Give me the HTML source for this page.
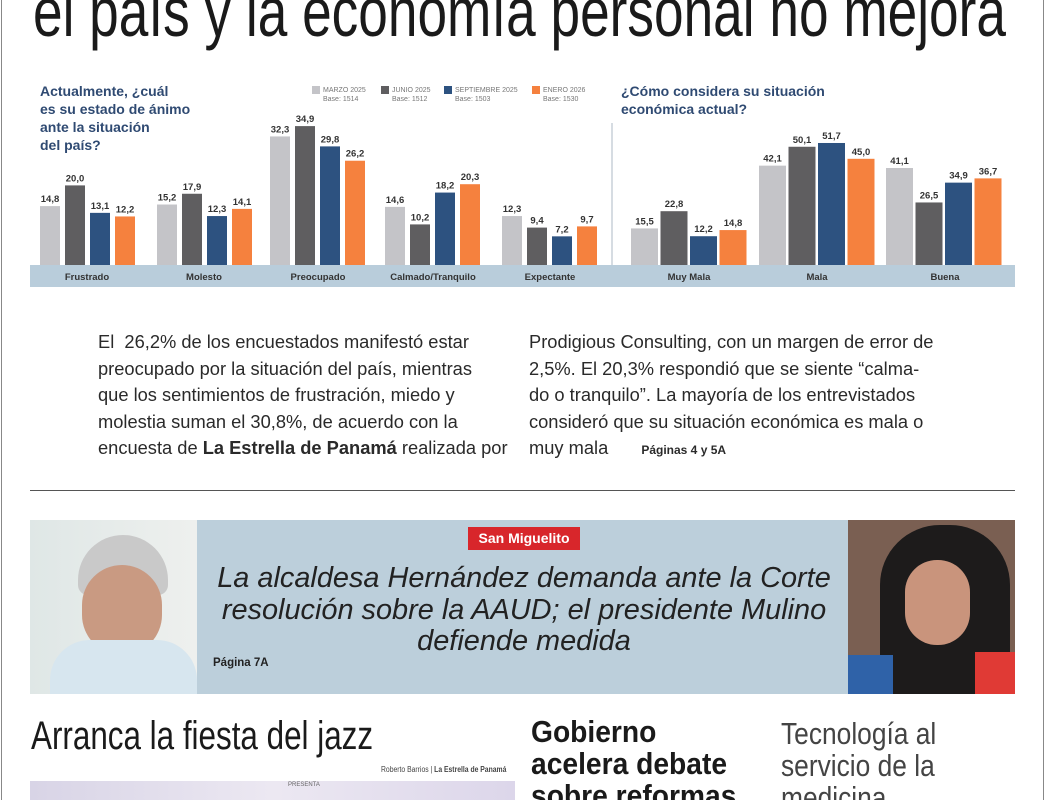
<!DOCTYPE html>
<html><head><meta charset="utf-8"><style>
html,body{margin:0;width:1045px;height:800px;overflow:hidden}
body{background:#fff;position:relative;font-family:"Liberation Sans",sans-serif}
.a{position:absolute;white-space:nowrap}
.sq{display:inline-block;transform-origin:0 0}
.bt{font-size:18.3px;color:#2a2a2a;line-height:26.5px}
</style></head><body>
<div class="a" style="left:1px;top:0;width:1px;height:800px;background:#888"></div>
<div class="a" style="left:1043px;top:0;width:1px;height:800px;background:#888"></div>
<div class="a" style="left:33px;top:-28px;font-size:70px;color:#1a1a1a;"><span class="sq" style="transform:scaleX(0.76)">el país y la economía personal no mejora</span></div>

<svg class="a" style="left:0;top:0" width="1045" height="300" font-family="Liberation Sans, sans-serif">
<rect x="30" y="265" width="985" height="22" fill="#b9cddb"/>
<line x1="612" y1="123" x2="612" y2="265" stroke="#c8d0d8" stroke-width="1.5"/>
<g font-weight="bold" fill="#2f4a72" font-size="14">
<text x="40" y="96">Actualmente, ¿cuál</text><text x="40" y="114">es su estado de ánimo</text><text x="40" y="132">ante la situación</text><text x="40" y="150">del país?</text>
<text x="621" y="96">¿Cómo considera su situación</text><text x="621" y="114">económica actual?</text>
</g>
<g font-size="7" fill="#777">
<rect x="312" y="86" width="8" height="8" fill="#c4c4c8"/><text x="323" y="92">MARZO 2025</text><text x="323" y="101">Base: 1514</text>
<rect x="381" y="86" width="8" height="8" fill="#5f5e60"/><text x="392" y="92">JUNIO 2025</text><text x="392" y="101">Base: 1512</text>
<rect x="444" y="86" width="8" height="8" fill="#2d5280"/><text x="455" y="92">SEPTIEMBRE 2025</text><text x="455" y="101">Base: 1503</text>
<rect x="532" y="86" width="8" height="8" fill="#f5813e"/><text x="543" y="92">ENERO 2026</text><text x="543" y="101">Base: 1530</text>
</g>
<g id="bars"></g>
<g font-size="9.5" font-weight="bold" fill="#333" text-anchor="middle">
<text x="87" y="280">Frustrado</text><text x="204" y="280">Molesto</text><text x="318" y="280">Preocupado</text><text x="433" y="280">Calmado/Tranquilo</text><text x="550" y="280">Expectante</text>
<text x="689" y="280">Muy Mala</text><text x="817" y="280">Mala</text><text x="945" y="280">Buena</text>
</g>
</svg>

<div class="a bt" style="left:98px;top:329px">El &nbsp;26,2% de los encuestados manifestó estar<br>preocupado por la situación del país, mientras<br>que los sentimientos de frustración, miedo y<br>molestia suman el 30,8%, de acuerdo con la<br>encuesta de <b>La Estrella de Panamá</b> realizada por</div>
<div class="a bt" style="left:529px;top:329px">Prodigious Consulting, con un margen de error de<br>2,5%. El 20,3% respondió que se siente “calma-<br>do o tranquilo”. La mayoría de los entrevistados<br>consideró que su situación económica es mala o<br>muy mala <span style="font-size:12px;font-weight:bold;margin-left:28px">Páginas 4 y 5A</span></div>
<div class="a" style="left:30px;top:490px;width:985px;height:1px;background:#555"></div>

<div class="a" style="left:30px;top:520px;width:985px;height:174px;background:#bccfdb"></div>
<div class="a" style="left:30px;top:520px;width:167px;height:174px;background:linear-gradient(90deg,#dfe7e6,#eef0ee)"></div>
<div class="a" style="left:78px;top:535px;width:90px;height:60px;border-radius:45px 45px 10px 10px;background:#c9c9c9"></div>
<div class="a" style="left:82px;top:565px;width:80px;height:90px;border-radius:40px;background:#c99a82"></div>
<div class="a" style="left:50px;top:640px;width:147px;height:54px;border-radius:40px 40px 0 0;background:#d7e6ef"></div>
<div class="a" style="left:848px;top:520px;width:167px;height:174px;overflow:hidden;background:#7a5f52">
<div class="a" style="left:32px;top:5px;width:130px;height:170px;border-radius:60px 60px 0 0;background:#1d1b1b"></div>
<div class="a" style="left:57px;top:40px;width:65px;height:85px;border-radius:32px;background:#c9947c"></div>
<div class="a" style="left:0;top:135px;width:45px;height:39px;background:#2f62a8"></div>
<div class="a" style="left:127px;top:132px;width:40px;height:42px;background:#e03a35"></div>
</div>
<div class="a" style="left:468px;top:527px;width:112px;height:23px;background:#d8262b;color:#fff;font-weight:bold;font-size:14px;line-height:23px;text-align:center">San Miguelito</div>
<div class="a" style="left:200px;top:563px;width:648px;text-align:center;font-style:italic;font-size:28.9px;line-height:31.5px;color:#222;white-space:normal">La alcaldesa Hernández demanda ante la Corte<br>resolución sobre la AAUD; el presidente Mulino<br>defiende medida</div>
<div class="a" style="left:213px;top:657px;font-size:11.5px;font-weight:bold;color:#222">Página 7A</div>

<div class="a" style="left:31px;top:714px;font-size:40px;color:#1a1a1a"><span class="sq" style="transform:scaleX(0.785)">Arranca la fiesta del jazz</span></div>
<div class="a" style="left:381px;top:765px;font-size:8px;color:#444"><span class="sq" style="transform:scaleX(0.85)">Roberto Barrios | <b>La Estrella de Panamá</b></span></div>
<div class="a" style="left:30px;top:781px;width:485px;height:19px;background:linear-gradient(90deg,#d8d4e6,#ece8f2,#dcd6ea)"></div>
<div class="a" style="left:288px;top:782px;font-size:6px;color:#666">PRESENTA</div>
<div class="a" style="left:531px;top:716px;font-size:31px;font-weight:bold;line-height:32px;color:#1a1a1a"><span class="sq" style="transform:scaleX(0.91)">Gobierno<br>acelera debate<br>sobre reformas</span></div>
<div class="a" style="left:781px;top:718px;font-size:31px;line-height:32px;color:#444"><span class="sq" style="transform:scaleX(0.85)">Tecnología al<br>servicio de la<br>medicina</span></div>

<script>
var g=document.getElementById('bars'),ns='http://www.w3.org/2000/svg';
var cols=['#c4c4c8','#5f5e60','#2d5280','#f5813e'];
function grp(x0,w,step,vals,sc){vals.forEach(function(v,i){var h=v*sc,x=x0+i*step;
var r=document.createElementNS(ns,'rect');r.setAttribute('x',x);r.setAttribute('y',265-h);r.setAttribute('width',w);r.setAttribute('height',h);r.setAttribute('fill',cols[i]);g.appendChild(r);
var t=document.createElementNS(ns,'text');t.setAttribute('x',x+w/2);t.setAttribute('y',265-h-4);t.setAttribute('text-anchor','middle');t.setAttribute('font-size','9.5');t.setAttribute('font-weight','bold');t.setAttribute('fill','#333');t.textContent=v.toFixed(1).replace('.',',');g.appendChild(t);});}
var L=[[14.8,20.0,13.1,12.2],[15.2,17.9,12.3,14.1],[32.3,34.9,29.8,26.2],[14.6,10.2,18.2,20.3],[12.3,9.4,7.2,9.7]];
var Lx=[40,157,270,385,502];
L.forEach(function(v,i){grp(Lx[i],20,25,v,3.98)});
var R=[[15.5,22.8,12.2,14.8],[42.1,50.1,51.7,45.0],[41.1,26.5,34.9,36.7]];
var Rx=[631,759,886];
R.forEach(function(v,i){grp(Rx[i],27,29.5,v,2.36)});
</script>
</body></html>
